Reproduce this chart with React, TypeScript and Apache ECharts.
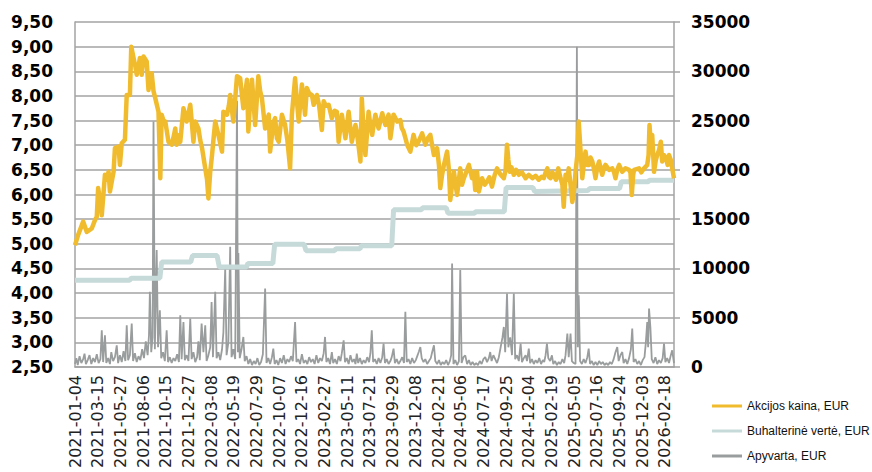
import React, { useEffect, useRef } from "react";
import * as echarts from "echarts";

// X tick labels (every 50 trading days)
const tickLabels = ["2021-01-04","2021-03-15","2021-05-27","2021-08-06","2021-10-15","2021-12-27","2022-03-08","2022-05-19","2022-07-29","2022-10-07","2022-12-16","2023-02-27","2023-05-11","2023-07-21","2023-09-29","2023-12-08","2024-02-21","2024-05-06","2024-07-17","2024-09-25","2024-12-04","2025-02-19","2025-05-05","2025-07-16","2025-09-24","2025-12-03","2026-02-18"];
const lastIndex = 1320;

// [trading-day index, EUR]
const price: [number, number][] = [
[0,4.97],[7,5.18],[18,5.45],[26,5.24],[37,5.31],[44,5.48],[48,5.55],[51,6.13],[55,5.9],[59,5.58],[66,6.4],[70,6.3],[74,6.46],[77,6.06],[85,6.46],[88,6.94],[96,6.97],[99,6.6],[103,7.04],[110,7.11],[114,8.02],[121,8.02],[124,9.0],[129,8.77],[133,8.6],[136,8.43],[140,8.6],[143,8.77],[147,8.43],[151,8.8],[158,8.7],[162,8.12],[166,8.4],[169,8.46],[173,8.1],[177,7.95],[184,7.68],[188,6.33],[191,7.62],[195,7.5],[199,7.48],[206,7.07],[213,7.01],[218,7.2],[221,7.34],[224,7.01],[228,7.2],[232,7.07],[239,7.75],[243,7.6],[246,7.48],[254,7.82],[258,7.4],[261,7.07],[265,7.48],[272,7.34],[276,7.1],[280,6.94],[287,6.53],[291,6.3],[294,5.92],[298,6.46],[302,6.8],[305,7.1],[309,7.48],[316,7.21],[324,6.87],[327,7.68],[335,7.62],[339,7.8],[342,8.02],[346,7.7],[349,7.48],[357,8.4],[364,8.36],[368,8.0],[371,7.75],[379,8.33],[382,7.28],[386,7.9],[390,8.33],[394,7.8],[397,7.41],[404,8.4],[408,8.1],[412,7.95],[419,7.34],[423,7.5],[427,7.62],[430,6.87],[434,7.2],[438,7.48],[441,7.55],[445,7.14],[449,7.07],[456,7.62],[463,7.41],[468,7.1],[474,6.53],[478,7.62],[485,8.36],[489,7.9],[493,7.48],[500,8.23],[507,7.62],[511,8.16],[516,8.05],[522,8.02],[526,7.82],[533,8.02],[538,7.8],[544,7.31],[548,7.89],[553,7.8],[559,7.82],[566,7.55],[572,7.7],[577,7.68],[581,7.07],[588,7.62],[596,7.14],[603,7.68],[610,7.07],[618,7.41],[621,7.28],[629,6.67],[632,7.95],[636,7.3],[640,6.8],[647,7.68],[651,7.4],[655,7.21],[658,7.41],[662,7.62],[666,7.45],[669,7.34],[677,7.65],[684,7.41],[691,7.62],[695,7.14],[702,7.62],[710,7.48],[717,7.51],[720,7.35],[724,7.28],[728,7.15],[732,7.01],[739,6.87],[746,7.21],[752,7.0],[757,7.07],[765,7.24],[772,7.01],[778,7.15],[783,7.21],[787,7.0],[791,6.8],[798,6.94],[802,6.6],[805,6.13],[809,6.4],[813,6.6],[820,6.87],[824,6.5],[827,5.89],[831,6.2],[835,6.46],[842,5.99],[846,6.3],[849,6.53],[853,6.2],[857,6.33],[862,6.45],[868,6.6],[875,6.33],[879,6.45],[882,6.09],[886,6.46],[890,6.06],[897,6.33],[903,6.2],[908,6.26],[913,6.35],[919,6.16],[925,6.4],[930,6.53],[938,6.4],[945,6.33],[949,6.5],[952,7.01],[955,6.7],[958,6.46],[962,6.55],[967,6.4],[972,6.5],[978,6.4],[985,6.45],[993,6.33],[1000,6.4],[1008,6.33],[1015,6.38],[1022,6.3],[1028,6.36],[1033,6.33],[1037,6.45],[1041,6.53],[1045,6.35],[1048,6.33],[1052,6.45],[1055,6.4],[1060,6.3],[1065,6.53],[1070,6.33],[1074,6.2],[1077,5.75],[1081,6.4],[1085,6.3],[1088,6.53],[1092,6.2],[1096,5.85],[1100,6.1],[1103,6.46],[1107,6.8],[1110,7.48],[1114,6.9],[1118,6.33],[1121,6.6],[1125,6.87],[1129,6.6],[1133,6.6],[1136,6.75],[1140,6.67],[1144,6.5],[1147,6.33],[1151,6.55],[1155,6.67],[1159,6.5],[1162,6.4],[1166,6.55],[1169,6.6],[1177,6.5],[1184,6.53],[1188,6.45],[1191,6.33],[1195,6.5],[1199,6.6],[1206,6.46],[1213,6.53],[1221,6.5],[1224,6.45],[1227,5.99],[1230,6.4],[1232,6.5],[1243,6.53],[1248,6.45],[1254,6.53],[1261,6.6],[1264,6.8],[1266,7.41],[1269,7.0],[1272,7.21],[1276,6.46],[1280,6.7],[1283,6.8],[1287,6.9],[1291,7.07],[1294,6.67],[1298,6.8],[1302,6.74],[1306,6.6],[1309,6.8],[1313,6.7],[1316,6.53],[1320,6.33]
];

// [trading-day index, EUR]
const bookValue: [number, number][] = [
[0,4.26],[120,4.26],[124,4.30],[187,4.30],[191,4.63],[255,4.63],[259,4.76],[313,4.76],[318,4.53],[378,4.53],[381,4.60],[436,4.60],[440,4.99],[505,4.99],[509,4.86],[572,4.86],[575,4.90],[628,4.90],[631,4.96],[698,4.96],[702,5.69],[763,5.69],[766,5.73],[818,5.73],[822,5.62],[880,5.62],[883,5.65],[946,5.65],[950,6.14],[1009,6.14],[1013,6.06],[1130,6.08],[1134,6.12],[1200,6.12],[1204,6.26],[1263,6.26],[1266,6.29],[1320,6.29]
];

// [trading-day index, EUR]
const turnover: [number, number][] = [
[0,300],[3,900],[6,200],[10,1100],[14,400],[18,800],[21,1350],[24,300],[28,700],[32,1200],[36,300],[40,900],[44,500],[48,1300],[52,400],[56,800],[59,3730],[62,500],[66,3220],[69,400],[73,900],[77,300],[80,1500],[84,600],[88,1000],[92,2200],[95,400],[99,1200],[103,500],[107,1600],[111,600],[114,4230],[117,700],[121,1200],[125,4400],[128,600],[132,1400],[136,500],[140,1100],[144,700],[148,1800],[152,900],[156,2600],[160,1200],[163,3200],[165,7620],[168,1500],[171,3000],[173,24900],[176,1800],[180,11860],[183,2000],[187,5760],[190,900],[194,1500],[198,600],[202,3730],[205,500],[209,1000],[213,400],[217,900],
[221,600],[225,1300],[229,500],[232,5250],[235,800],[239,4570],[242,700],[246,1200],[250,600],[254,4910],[257,800],[261,1500],[265,500],[269,1000],[272,2600],[275,700],[279,4400],[283,1500],[287,4230],[290,600],[294,1200],[298,2000],[301,6600],[304,1000],[309,7620],[312,900],[316,1500],[320,700],[324,1800],[327,3500],[331,10000],[334,1200],[338,2500],[342,12200],[345,1000],[349,1800],[353,800],[357,27000],[359,1500],[360,11560],[363,900],[367,1800],[371,3050],[374,600],[378,1100],[382,300],[386,800],[390,200],[394,600],[398,300],[402,900],[406,200],[410,500],[414,1300],[419,7960],[422,400],[426,900],[430,300],[434,1000],[437,1860],[440,300],[444,700],[448,200],[452,900],[456,400],[460,1200],[464,300],[468,800],[472,500],[476,1100],[480,600],[485,4570],[488,500],[492,800],[496,300],[500,1300],[504,400],[508,700],[512,300],[516,1000],[520,500],[524,800],[528,300],[532,1200],[536,400],[540,900],[544,600],[548,1400],[551,3050],[554,500],[558,900],[562,300],[566,1520],[569,400],[573,800],[577,300],[581,1100],[585,600],[588,1400],[592,2710],[595,500],[599,900],[603,300],[607,1200],[611,500],[615,800],[618,300],[621,1350],[624,400],[628,900],[632,300],[636,700],[640,400],[644,1000],[648,500],[651,1400],[654,3730],[657,500],[661,800],[665,300],[669,900],[673,400],[677,1000],[680,2370],[683,400],[687,800],[691,300],[695,600],[698,1000],[702,1860],[705,400],[709,800],[713,300],[717,600],[721,1000],[725,400],[728,5590],[731,500],[735,800],[739,300],[743,900],[747,400],[751,700],[755,1200],[758,1600],[761,2030],[764,900],[768,500],[772,800],[776,300],[780,600],[784,900],[787,1500],[791,2200],[794,600],[798,300],[802,700],[806,200],[810,500],[814,300],[818,700],[822,200],[826,600],[829,1200],[831,10500],[834,300],[838,700],[842,200],[846,600],[849,9830],[852,400],[856,1000],[860,1180],[864,300],[868,700],[872,200],[876,500],[880,200],[884,400],[888,200],[892,600],[896,300],[900,800],[904,1000],[908,500],[912,900],[915,1520],[918,600],[922,1200],[926,800],[930,400],[934,1000],[938,2000],[942,3000],[945,4060],[948,1500],[952,7450],[955,2000],[959,3000],[963,1200],[967,7450],[970,800],[974,1200],[978,600],[982,2370],[985,500],[989,900],[993,1200],[996,600],[1000,1860],[1003,400],[1007,800],[1011,300],[1015,700],[1019,400],[1023,900],[1027,300],[1031,700],[1034,500],[1037,1200],[1040,2370],[1043,900],[1047,600],[1051,1180],[1054,300],[1058,600],[1062,200],[1066,500],[1070,300],[1074,800],[1078,400],[1081,1200],[1085,3390],[1088,1000],[1092,3390],[1095,600],[1099,400],[1103,300],[1106,32500],[1108,2000],[1110,7280],[1113,600],[1117,300],[1121,800],[1125,400],[1129,1000],[1132,1860],[1135,300],[1139,600],[1143,200],[1147,500],[1151,200],[1155,600],[1159,300],[1163,500],[1167,200],[1171,400],[1175,200],[1179,500],[1183,300],[1187,800],[1191,1500],[1195,2030],[1198,600],[1202,1200],[1206,1520],[1209,400],[1213,800],[1217,300],[1221,900],[1225,1800],[1228,3900],[1231,500],[1235,800],[1239,300],[1243,600],[1247,200],[1251,700],[1255,1000],[1258,2500],[1261,4570],[1263,2000],[1265,5930],[1268,4000],[1271,800],[1275,400],[1279,1000],[1283,300],[1287,700],[1291,400],[1295,900],[1298,2370],[1301,500],[1305,900],[1309,400],[1313,1200],[1316,1690],[1320,400]
];

const seriesNames = ["Akcijos kaina, EUR", "Buhalterinė vertė, EUR", "Apyvarta, EUR"];

export default function App() {
  const ref = useRef<HTMLDivElement>(null);
  useEffect(() => {
    if (!ref.current) return;
    const chart = echarts.init(ref.current, undefined, { renderer: "svg" });
    const gridColor = "#a3a3a3";
    chart.setOption({
      animation: false,
      backgroundColor: "#ffffff",
      grid: { left: 75, right: 198, top: 22, bottom: 105 },
      legend: {
        orient: "vertical",
        left: 707,
        top: 393,
        itemWidth: 30,
        itemHeight: 3,
        itemGap: 9,
        icon: "rect",
        data: seriesNames,
        textStyle: { fontFamily: "Liberation Sans, sans-serif", fontSize: 12, color: "#111", lineHeight: 16 },
      },
      xAxis: {
        type: "value",
        min: 0,
        max: lastIndex,
        interval: 50,
        axisLine: { show: true, onZero: false, lineStyle: { color: gridColor, width: 1.5 } },
        axisTick: { show: false },
        splitLine: { show: false },
        axisLabel: {
          rotate: 90,
          margin: 8,
          fontFamily: "DejaVu Sans",
          fontSize: 16,
          color: "#222",
          showMaxLabel: false,
          formatter: (v: number) => (v % 50 === 0 && tickLabels[v / 50]) ? tickLabels[v / 50] : "",
        },
      },
      yAxis: [
        {
          type: "value",
          min: 2.5,
          max: 9.5,
          interval: 0.5,
          position: "left",
          axisLine: { show: true, lineStyle: { color: gridColor, width: 1.5 } },
          axisTick: { show: false },
          splitLine: { show: true, lineStyle: { color: gridColor, width: 1.5 } },
          axisLabel: {
            margin: 22,
            fontFamily: "DejaVu Sans",
            fontWeight: "bold",
            fontSize: 17,
            color: "#000",
            formatter: (v: number) => v.toFixed(2).replace(".", ","),
          },
        },
        {
          type: "value",
          min: 0,
          max: 35000,
          interval: 5000,
          position: "right",
          axisLine: { show: true, lineStyle: { color: gridColor, width: 1.5 } },
          axisTick: { show: true, length: 6, lineStyle: { color: gridColor, width: 1.5 } },
          splitLine: { show: false },
          axisLabel: {
            margin: 17,
            fontFamily: "DejaVu Sans",
            fontWeight: "bold",
            fontSize: 17,
            color: "#000",
            formatter: (v: number) => String(v),
          },
        },
      ],
      series: [
        {
          name: seriesNames[2],
          type: "line",
          yAxisIndex: 1,
          data: turnover,
          showSymbol: false,
          z: 1,
          itemStyle: { color: "#9a9d9d" },
          lineStyle: { color: "#9a9d9d", width: 1.8 },
        },
        {
          name: seriesNames[1],
          type: "line",
          yAxisIndex: 0,
          data: bookValue,
          showSymbol: false,
          z: 2,
          itemStyle: { color: "#c6dad9" },
          lineStyle: { color: "#c6dad9", width: 5 },
        },
        {
          name: seriesNames[0],
          type: "line",
          yAxisIndex: 0,
          data: price,
          showSymbol: false,
          z: 3,
          itemStyle: { color: "#f0bb2d" },
          lineStyle: { color: "#f0bb2d", width: 4.5, join: "round" },
        },
      ],
    });
    return () => chart.dispose();
  }, []);
  return <div ref={ref} style={{ position: "fixed", left: 0, top: 0, width: 872, height: 472 }} />;
}
